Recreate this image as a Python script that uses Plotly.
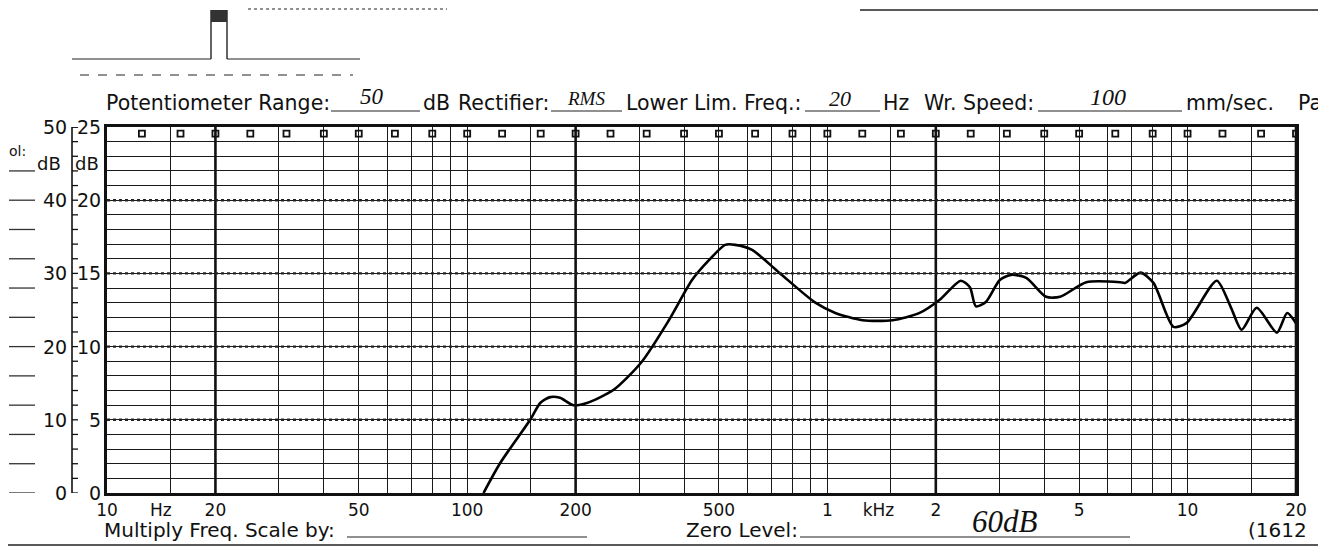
import plotly.graph_objects as go

# ---- data ----
freq_hz = [111, 123.5, 149.6, 159.5, 170, 181, 197, 215, 255, 305, 363, 421, 469, 520,
           555, 618, 735, 926, 1052, 1251, 1517, 1803, 2051, 2346, 2487, 2584, 2754,
           3011, 3236, 3565, 4048, 4426, 5233, 6500, 6700, 7400, 8040, 9140, 9930,
           12050, 13180, 14130, 15560, 17700, 18900, 20000]
level_db = [0, 4.1, 10.0, 12.3, 13.1, 13.0, 12.0, 12.3, 14.1, 17.9, 23.6, 29.1, 31.8, 33.9,
            33.9, 33.2, 30.1, 26.0, 24.6, 23.6, 23.6, 24.6, 26.4, 29.0, 28.1, 25.5, 26.1,
            29.1, 29.8, 29.4, 26.8, 26.8, 28.8, 28.8, 28.7, 30.1, 28.7, 22.7, 23.2,
            29.0, 25.4, 22.3, 25.3, 21.9, 24.6, 23.2]

grid_mult = [1, 1.5, 2, 3, 4, 5, 6, 7, 8, 9]
grid_decades = [10, 100, 1000, 10000]
grid_freqs = [m * d for d in grid_decades for m in grid_mult] + [20000]
heavy_freqs = [20, 200, 2000, 20000]
third_oct_marks = [12.5, 16, 20, 25, 31.5, 40, 50, 63, 80, 100, 125, 160, 200, 250, 315, 400,
                   500, 630, 800, 1000, 1250, 1600, 2000, 2500, 3150, 4000, 5000, 6300,
                   8000, 10000, 12500, 16000, 20000]

x_tick_vals = [10, 14.1, 20, 50, 100, 200, 500, 1000, 1386, 2000, 5000, 10000, 20000]
x_tick_text = ["10", "Hz", "20", "50", "100", "200", "500", "1", "kHz", "2", "5", "10", "20"]

scale50_labels = [50, 40, 30, 20, 10, 0]
scale25_labels = ["25", "20", "15", "10", "5", "0"]
minor_rows = list(range(0, 51, 2))
major_rows = [10, 20, 30, 40]
left_dash_rows = list(range(0, 45, 4))

# page has an 8px body margin: figure is placed at (8, 8)
OFF = 8
W, H = 1326 - OFF, 547 - OFF
PL, PR, PT, PB = 107, 1296, 127, 493          # plot area in page pixels
L, T = PL - OFF, PT - OFF
PW, PH = PR - PL, PB - PT
R = W - L - PW
B = H - T - PH

def px(xp):
    return (xp - PL) / PW

def py(yp):
    return (PB - yp) / PH

FONT = "DejaVu Sans"
HAND = "Liberation Serif"
INK = "#111111"

fig = go.Figure()

fig.add_trace(go.Scatter(
    x=freq_hz, y=level_db, mode="lines",
    line=dict(color="#000000", width=2.6, shape="spline", smoothing=0.7),
    hoverinfo="skip", showlegend=False))

fig.add_trace(go.Scatter(
    x=third_oct_marks, y=[49.1] * len(third_oct_marks), mode="markers",
    marker=dict(symbol="square-open", size=6, color=INK, line=dict(width=1.8, color=INK)),
    hoverinfo="skip", showlegend=False))

shapes = []
for f in heavy_freqs:
    shapes.append(dict(type="line", xref="x", yref="paper", x0=f, x1=f, y0=0, y1=1,
                       line=dict(color=INK, width=2.6)))
for r in major_rows:
    shapes.append(dict(type="line", xref="paper", yref="y", x0=0, x1=1, y0=r, y1=r,
                       line=dict(color="#222222", width=2.4, dash="dot")))
# left 25-scale bar and its ticks
shapes.append(dict(type="line", xref="paper", yref="y", x0=px(72), x1=px(72), y0=0, y1=50,
                   line=dict(color=INK, width=1.6)))
shapes.append(dict(type="line", xref="paper", yref="y", x0=px(72), x1=px(78), y0=50, y1=50,
                   line=dict(color=INK, width=1.6)))
for r in minor_rows:
    shapes.append(dict(type="line", xref="paper", yref="y", x0=px(72), x1=px(78), y0=r, y1=r,
                       line=dict(color=INK, width=1.3)))
for r in left_dash_rows:
    shapes.append(dict(type="line", xref="paper", yref="y", x0=px(9), x1=px(35), y0=r, y1=r,
                       line=dict(color="#333333", width=1.3)))

# header decoration at the top-left
deco = [
    (72, 59, 211, 59, "solid", 1.2), (227, 59, 360, 59, "solid", 1.2),
    (211, 59, 211, 10, "solid", 1.4), (227, 59, 227, 10, "solid", 1.4),
    (80, 75, 353, 75, "dash", 1.0), (248, 9, 447, 9, "dot", 1.0),
    (860, 10, 1326, 10, "solid", 1.3), (8, 545, 1326, 545, "solid", 1.3),
]
for x0, y0, x1, y1, d, w in deco:
    shapes.append(dict(type="line", xref="paper", yref="paper", x0=px(x0), x1=px(x1),
                       y0=py(y0), y1=py(y1), line=dict(color="#222222", width=w, dash=d)))
shapes.append(dict(type="rect", xref="paper", yref="paper", x0=px(211), x1=px(227),
                   y0=py(22), y1=py(10), fillcolor="#333333", line=dict(width=0)))

# field underlines
for x0, x1, yy in [(331, 420, 111), (551, 622, 111), (805, 880, 111), (1038, 1182, 111),
                   (347, 587, 537), (800, 1130, 537)]:
    shapes.append(dict(type="line", xref="paper", yref="paper", x0=px(x0), x1=px(x1),
                       y0=py(yy), y1=py(yy), line=dict(color="#222222", width=1.2)))

ann = []
def txt(x, y, s, size=20.5, anchor="left", font=FONT, italic=False, color=INK):
    ann.append(dict(x=px(x), y=py(y), xref="paper", yref="paper", text=(f"<i>{s}</i>" if italic else s),
                    showarrow=False, xanchor=anchor, yanchor="middle",
                    font=dict(family=font, size=size, color=color)))

HY = 103
txt(104, HY, "Potentiometer Range:")
txt(372, 96, "50", size=23, anchor="center", font=HAND, italic=True)
txt(421, HY, "dB")
txt(456, HY, "Rectifier:")
txt(586, 99, "RMS", size=19, anchor="center", font=HAND, italic=True)
txt(624, HY, "Lower Lim. Freq.:")
txt(840, 99, "20", size=22, anchor="center", font=HAND, italic=True)
txt(881, HY, "Hz")
txt(922, HY, "Wr. Speed:")
txt(1108, 97, "100", size=24, anchor="center", font=HAND, italic=True)
txt(1184, HY, "mm/sec.")
txt(1296, HY, "Pa")

txt(102, 530, "Multiply Freq. Scale by:", size=20)
txt(684, 530, "Zero Level:", size=20)
txt(1005, 521, "60dB", size=31, anchor="center", font=HAND, italic=True)
txt(1246, 530, "(1612", size=20)

txt(7, 151, "ol:", size=14)
txt(63, 163, "dB", size=18, anchor="right")
txt(101, 163, "dB", size=18, anchor="right")

for v, s in zip(scale50_labels, scale25_labels):
    ann.append(dict(x=px(69), y=v, xref="paper", yref="y", text=str(v), showarrow=False,
                    xanchor="right", yanchor="middle", font=dict(family=FONT, size=19, color=INK)))
    ann.append(dict(x=px(103), y=v, xref="paper", yref="y", text=s, showarrow=False,
                    xanchor="right", yanchor="middle", font=dict(family=FONT, size=19, color=INK)))

fig.update_layout(
    width=W, height=H, autosize=False,
    margin=dict(l=L, r=R, t=T, b=B, autoexpand=False),
    paper_bgcolor="white", plot_bgcolor="white",
    shapes=shapes, annotations=ann, showlegend=False,
    xaxis=dict(type="log", range=[1, 4.30103], showgrid=False, automargin=False,
               tickmode="array", tickvals=x_tick_vals, ticktext=x_tick_text,
               ticks="", tickfont=dict(family=FONT, size=17, color=INK),
               showline=True, linecolor=INK, linewidth=2.6, mirror=True, zeroline=False,
               minor=dict(tickmode="array", tickvals=grid_freqs, showgrid=True,
                          gridcolor="#1a1a1a", gridwidth=1.3, ticks="")),
    yaxis=dict(range=[0, 50], showticklabels=False, ticks="", automargin=False,
               tickmode="array", tickvals=minor_rows, showgrid=True,
               gridcolor="#1a1a1a", gridwidth=1.3, zeroline=False,
               showline=True, linecolor=INK, linewidth=2.6, mirror=True),
)

fig.write_html("out.html")
